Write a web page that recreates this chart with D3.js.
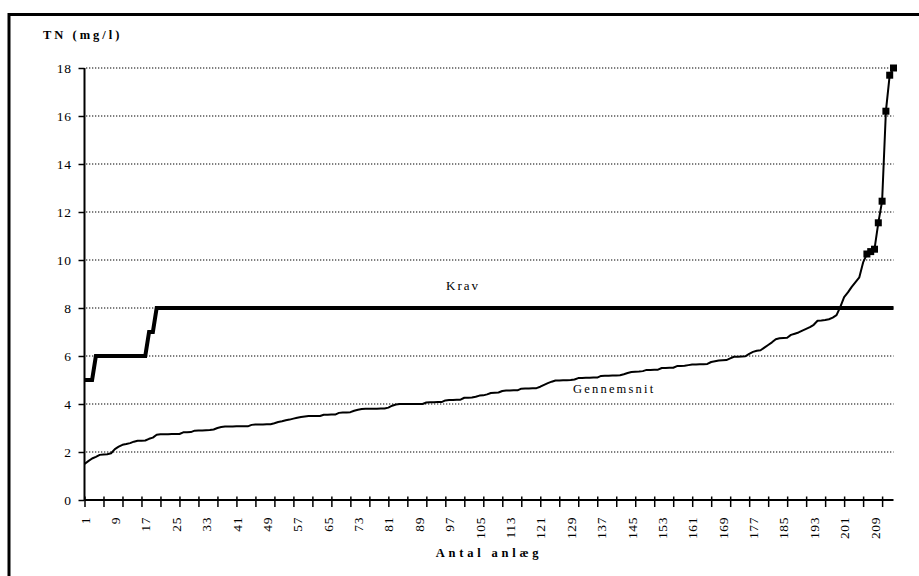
<!DOCTYPE html>
<html><head><meta charset="utf-8">
<script src="https://cdn.jsdelivr.net/npm/d3@7/dist/d3.min.js"></script>
<style>body{margin:0;background:#fff} svg{display:block}</style>
</head><body>
<svg id="c" width="919" height="576"></svg>
<script>
// ---- data ----
const categories = d3.range(1, 215); // Antal anlæg 1..214
const krav = [
5,5,5,6,6,6,6,6,6,6,6,6,6,6,6,6,6,7,7,8,
8,8,8,8,8,8,8,8,8,8,8,8,8,8,8,8,8,8,8,8,
8,8,8,8,8,8,8,8,8,8,8,8,8,8,8,8,8,8,8,8,
8,8,8,8,8,8,8,8,8,8,8,8,8,8,8,8,8,8,8,8,
8,8,8,8,8,8,8,8,8,8,8,8,8,8,8,8,8,8,8,8,
8,8,8,8,8,8,8,8,8,8,8,8,8,8,8,8,8,8,8,8,
8,8,8,8,8,8,8,8,8,8,8,8,8,8,8,8,8,8,8,8,
8,8,8,8,8,8,8,8,8,8,8,8,8,8,8,8,8,8,8,8,
8,8,8,8,8,8,8,8,8,8,8,8,8,8,8,8,8,8,8,8,
8,8,8,8,8,8,8,8,8,8,8,8,8,8,8,8,8,8,8,8,
8,8,8,8,8,8,8,8,8,8,8,8,8,8
];
const gennemsnit = [
1.5,1.62,1.73,1.8,1.88,1.9,1.91,1.95,2.12,2.22,2.3,2.33,2.37,2.43,2.47,2.47,2.48,2.55,2.6,2.72,
2.74,2.74,2.74,2.75,2.75,2.75,2.82,2.82,2.83,2.89,2.9,2.9,2.91,2.92,2.94,3.0,3.04,3.06,3.06,3.06,
3.07,3.07,3.07,3.07,3.13,3.15,3.15,3.15,3.16,3.16,3.2,3.25,3.28,3.32,3.35,3.39,3.43,3.46,3.48,3.5,
3.5,3.5,3.5,3.55,3.55,3.56,3.56,3.63,3.65,3.65,3.66,3.72,3.76,3.79,3.8,3.8,3.8,3.8,3.81,3.81,
3.85,3.93,3.98,4.0,4.0,4.0,4.0,4.0,4.0,4.0,4.06,4.07,4.07,4.08,4.08,4.15,4.17,4.17,4.18,4.18,
4.26,4.26,4.27,4.3,4.35,4.36,4.4,4.46,4.47,4.48,4.54,4.56,4.56,4.57,4.57,4.64,4.65,4.65,4.66,4.66,
4.72,4.8,4.87,4.93,4.98,4.98,4.99,4.99,5.0,5.02,5.08,5.08,5.09,5.09,5.1,5.1,5.17,5.18,5.18,5.19,
5.19,5.2,5.24,5.29,5.33,5.34,5.35,5.37,5.42,5.42,5.43,5.43,5.5,5.5,5.51,5.51,5.58,5.58,5.59,5.62,
5.65,5.65,5.66,5.66,5.67,5.75,5.78,5.81,5.82,5.83,5.9,5.97,5.97,5.98,5.99,6.09,6.17,6.22,6.24,6.35,
6.46,6.57,6.7,6.74,6.75,6.76,6.88,6.93,6.98,7.06,7.13,7.2,7.3,7.47,7.48,7.5,7.53,7.6,7.7,8.05,
8.45,8.65,8.88,9.08,9.28,9.9,10.25,10.35,10.45,11.55,12.45,16.2,17.7,18.0
];
const markedPoints = [207,208,209,210,211,212,213,214];
const yTicks = [0,2,4,6,8,10,12,14,16,18];
const xLabelCats = [1,9,17,25,33,41,49,57,65,73,81,89,97,105,113,121,129,137,145,153,161,169,177,185,193,201,209];
const xTickCats = [1,6,11,16,21,26,31,36,41,46,51,56,61,66,71,76,81,86,91,96,101,106,111,116,121,126,131,136,141,146,151,156,161,166,171,176,181,186,191,196,201,206,211];
const yTitle = "TN (mg/l)";
const xTitle = "Antal anlæg";
const kravLabel = "Krav";
const gennemsnitLabel = "Gennemsnit";

// ---- drawing ----
const svg = d3.select("#c");
const FONT = "'Liberation Serif','Times New Roman',serif";
const x = d3.scalePoint().domain(categories).range([84.5, 893.5]).padding(0);
const y = d3.scaleLinear().domain([0, 18]).range([500, 68]);

// frame (only left and top visible)
svg.append("rect").attr("x", 9).attr("y", 14.5).attr("width", 1000).attr("height", 1000)
  .attr("fill", "none").attr("stroke", "#000").attr("stroke-width", 3);

// gridlines
svg.append("g").selectAll("line").data(yTicks.filter(d => d > 0)).join("line")
  .attr("x1", 86).attr("x2", 893.5)
  .attr("y1", d => y(d)).attr("y2", d => y(d))
  .attr("stroke", "#000").attr("stroke-width", 1.2).attr("stroke-dasharray", "1.3,1.7");

// y axis
const yAxis = svg.append("g").attr("transform", "translate(84.5,0)")
  .call(d3.axisLeft(y).tickValues(yTicks).tickSize(6).tickPadding(7).tickFormat(d3.format("d")));
yAxis.select(".domain").attr("stroke-width", 2).attr("d", `M0,${y(18)}V${y(0)}`);
yAxis.selectAll(".tick line").attr("stroke-width", 1.5);
yAxis.selectAll("text").attr("font-family", FONT).attr("font-size", 13.5)
  .attr("letter-spacing", "0.6px").attr("fill", "#000");

// x axis ticks
const xAxis = svg.append("g").attr("transform", `translate(0,${y(0)})`)
  .call(d3.axisBottom(x).tickValues(xTickCats).tickSize(7).tickFormat(""));
xAxis.select(".domain").attr("stroke-width", 2).attr("d", `M84.5,0H893.5`);
xAxis.selectAll(".tick line").attr("y1", -3.5).attr("stroke-width", 1.5);

// x labels
const xLab = svg.append("g").attr("transform", `translate(0,${y(0)})`)
  .call(d3.axisBottom(x).tickValues(xLabelCats).tickSize(0).tickFormat(d => String(d)));
xLab.select(".domain").remove();
xLab.selectAll("text")
  .attr("font-family", FONT).attr("font-size", 13.5).attr("letter-spacing", "0.6px").attr("fill", "#000")
  .attr("text-anchor", "end").attr("dy", null).attr("y", 0)
  .attr("transform", "translate(4.6,17) rotate(-90)");

// Krav line
svg.append("path").datum(krav)
  .attr("d", d3.line().x((d, i) => x(categories[i])).y(d => y(d)))
  .attr("fill", "none").attr("stroke", "#000").attr("stroke-width", 4).attr("stroke-linejoin", "miter");

// Gennemsnit line
svg.append("path").datum(gennemsnit)
  .attr("d", d3.line().x((d, i) => x(categories[i])).y(d => y(d)))
  .attr("fill", "none").attr("stroke", "#000").attr("stroke-width", 2).attr("stroke-linejoin", "round");

// markers
svg.append("g").selectAll("rect").data(markedPoints).join("rect")
  .attr("x", c => x(c) - 3.5).attr("y", c => y(gennemsnit[categories.indexOf(c)]) - 3.5)
  .attr("width", 7).attr("height", 7).attr("fill", "#000");

// texts
svg.append("text").attr("x", 43).attr("y", 39).text(yTitle)
  .attr("font-family", FONT).attr("font-weight", "bold").attr("font-size", 12.5)
  .attr("letter-spacing", "3px");
svg.append("text").attr("x", 489).attr("y", 557).attr("text-anchor", "middle").text(xTitle)
  .attr("font-family", FONT).attr("font-weight", "bold").attr("font-size", 12.5)
  .attr("letter-spacing", "3.8px");
svg.append("text").attr("x", 446).attr("y", 290).text(kravLabel)
  .attr("font-family", FONT).attr("font-size", 13).attr("letter-spacing", "2px");
svg.append("text").attr("x", 573).attr("y", 393).text(gennemsnitLabel)
  .attr("font-family", FONT).attr("font-size", 12.5).attr("letter-spacing", "2.2px");
</script>
</body></html>
